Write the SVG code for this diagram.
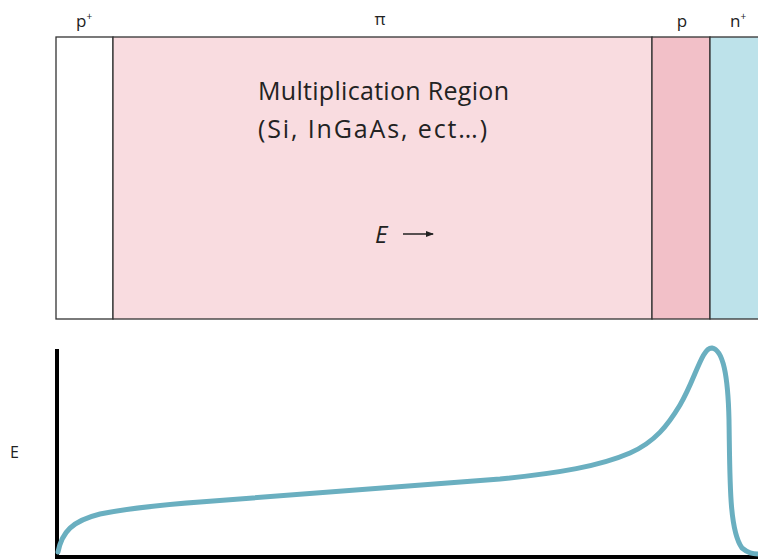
<svg xmlns="http://www.w3.org/2000/svg" width="758" height="559" viewBox="0 0 758 559">
<style>
.lbl{font-family:"Open Sans","Liberation Sans",sans-serif;fill:#222;}
.reg{stroke:#333;stroke-width:1.3;}
</style>
<defs>
<marker id="ah" markerWidth="8" markerHeight="6" refX="7" refY="3" orient="auto" markerUnits="userSpaceOnUse">
<path d="M0,0 L8,3 L0,6 Z" fill="#222"/>
</marker>
</defs>
<rect width="758" height="559" fill="#fff"/>
<g id="p-plus">
<rect class="reg" x="56" y="37" width="57" height="282" fill="#fff"/>
<text class="lbl" x="76" y="27" font-size="17">p<tspan font-size="10" dy="-7">+</tspan></text>
</g>
<g id="pi">
<rect class="reg" x="113" y="37" width="539" height="282" fill="#F9DCE0"/>
<text class="lbl" x="380" y="25" font-size="17" text-anchor="middle">π</text>
<text class="lbl" x="258" y="100" font-size="25" textLength="251" lengthAdjust="spacing">Multiplication Region</text>
<text class="lbl" x="258" y="138" font-size="25" textLength="229" lengthAdjust="spacing">(Si, InGaAs, ect…)</text>
<text class="lbl" x="375" y="243" font-size="24" font-style="italic">E</text>
</g>
<g id="p">
<rect class="reg" x="652" y="37" width="58" height="282" fill="#F2C0C8"/>
<text class="lbl" x="682" y="27" font-size="17" text-anchor="middle">p</text>
</g>
<g id="n-plus">
<rect class="reg" x="710" y="37" width="60" height="282" fill="#BDE2EA"/>
<text class="lbl" x="730" y="27" font-size="17">n<tspan font-size="10" dy="-7">+</tspan></text>
</g>
<g id="connectors">
<line x1="403" y1="234" x2="433" y2="234" stroke="#222" stroke-width="1.5" marker-end="url(#ah)"/>
</g>
<g id="graph">
<line x1="57" y1="349" x2="57" y2="559" stroke="#000" stroke-width="4"/>
<line x1="55" y1="557" x2="758" y2="557" stroke="#000" stroke-width="4"/>
<text class="lbl" x="10" y="458" font-size="16">E</text>
<path d="M58,552 C62,532 72,521 100,514 C130,508 160,505 200,502 C320,492 420,486 500,479 C560,473 600,466 630,453 C655,442 668,425 680,405 C695,380 702,347 712,348 C723,350 728,375 729,420 C730,480 729,530 742,548 C748,553 752,554 760,554" fill="none" stroke="#6AAFC0" stroke-width="5" stroke-linecap="round"/>
</g>
</svg>
